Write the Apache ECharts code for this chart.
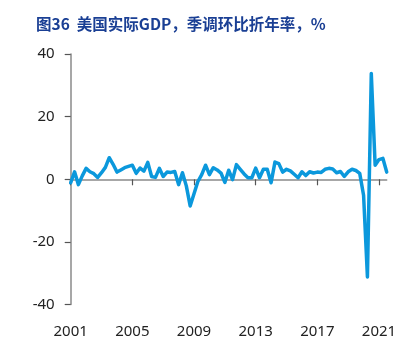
<!DOCTYPE html>
<html>
<head>
<meta charset="utf-8">
<script src="https://cdn.jsdelivr.net/npm/echarts@6/dist/echarts.min.js"></script>
<style>html,body{margin:0;padding:0;background:#fff;}#c{width:410px;height:356px;}</style>
</head>
<body>
<div id="c"></div>
<script>
const years = [2001,2002,2003,2004,2005,2006,2007,2008,2009,2010,2011,2012,2013,2014,2015,2016,2017,2018,2019,2020,2021];
const gdpQoQSaar = [
  -1.1, 2.4, -1.7, 1.1,
  3.5, 2.4, 1.8, 0.6,
  2.1, 3.8, 6.9, 4.8,
  2.3, 3.0, 3.7, 4.1,
  4.5, 1.9, 3.6, 2.6,
  5.4, 0.9, 0.6, 3.5,
  0.9, 2.3, 2.2, 2.5,
  -1.7, 2.1, -2.1, -8.5,
  -4.6, -0.7, 1.5, 4.5,
  1.5, 3.7, 3.0, 2.0,
  -1.0, 2.9, -0.1, 4.7,
  3.2, 1.7, 0.5, 0.5,
  3.6, 0.5, 3.2, 3.2,
  -1.1, 5.5, 5.0, 2.3,
  3.2, 2.7, 1.6, 0.5,
  2.4, 1.2, 2.4, 2.0,
  2.3, 2.2, 3.2, 3.5,
  3.3, 2.1, 2.5, 0.9,
  2.4, 3.2, 2.8, 1.9,
  -5.1, -31.2, 33.8, 4.5,
  6.3, 6.7, 2.3
];
const yTicks = [-40, -20, 0, 20, 40];

const categories = gdpQoQSaar.map((v, i) => years[Math.floor(i / 4)] + 'Q' + (i % 4 + 1));
const showEvery = (i) => i % 16 === 0;

const chart = echarts.init(document.getElementById('c'), null, {renderer: 'canvas'});
chart.setOption({
  animation: false,
  title: {
    text: '图36  美国实际GDP，季调环比折年率，%',
    left: 31, top: 11,
    textStyle: {fontFamily: 'Noto Sans CJK SC', fontWeight: 'bold', fontSize: 15.5, color: '#1a3f94'}
  },
  grid: {left: 70.7, right: 23.3, top: 54, bottom: 51.4, containLabel: false},
  xAxis: [
    {
      type: 'category', data: categories, boundaryGap: false, position: 'bottom',
      axisLine: {show: false, onZero: false}, axisTick: {show: false},
      axisLabel: {
        interval: (i) => showEvery(i), margin: 20,
        fontFamily: 'Noto Sans', fontSize: 15, color: '#222',
        formatter: (v) => v.slice(0, 4)
      }
    },
    {
      type: 'category', data: categories, boundaryGap: false, position: 'bottom',
      axisLine: {show: true, onZero: true, lineStyle: {color: '#8a8a8a', width: 1.5}},
      axisTick: {show: true, interval: (i) => showEvery(i), length: 6, lineStyle: {color: '#555', width: 1.2}},
      axisLabel: {show: false}
    }
  ],
  yAxis: {
    type: 'value', min: yTicks[0], max: yTicks[yTicks.length - 1], interval: 20,
    splitLine: {show: false},
    axisLine: {show: true, lineStyle: {color: '#8a8a8a', width: 1.5}},
    axisTick: {show: true, length: 6, lineStyle: {color: '#555', width: 1.2}},
    axisLabel: {margin: 16, fontFamily: 'Noto Sans', fontSize: 15, color: '#222'}
  },
  series: [{
    type: 'line', data: gdpQoQSaar, xAxisIndex: 0,
    showSymbol: false, symbol: 'none',
    lineStyle: {color: '#0b98dc', width: 3.5, join: 'round', cap: 'round'}
  }]
});
</script>
</body>
</html>
